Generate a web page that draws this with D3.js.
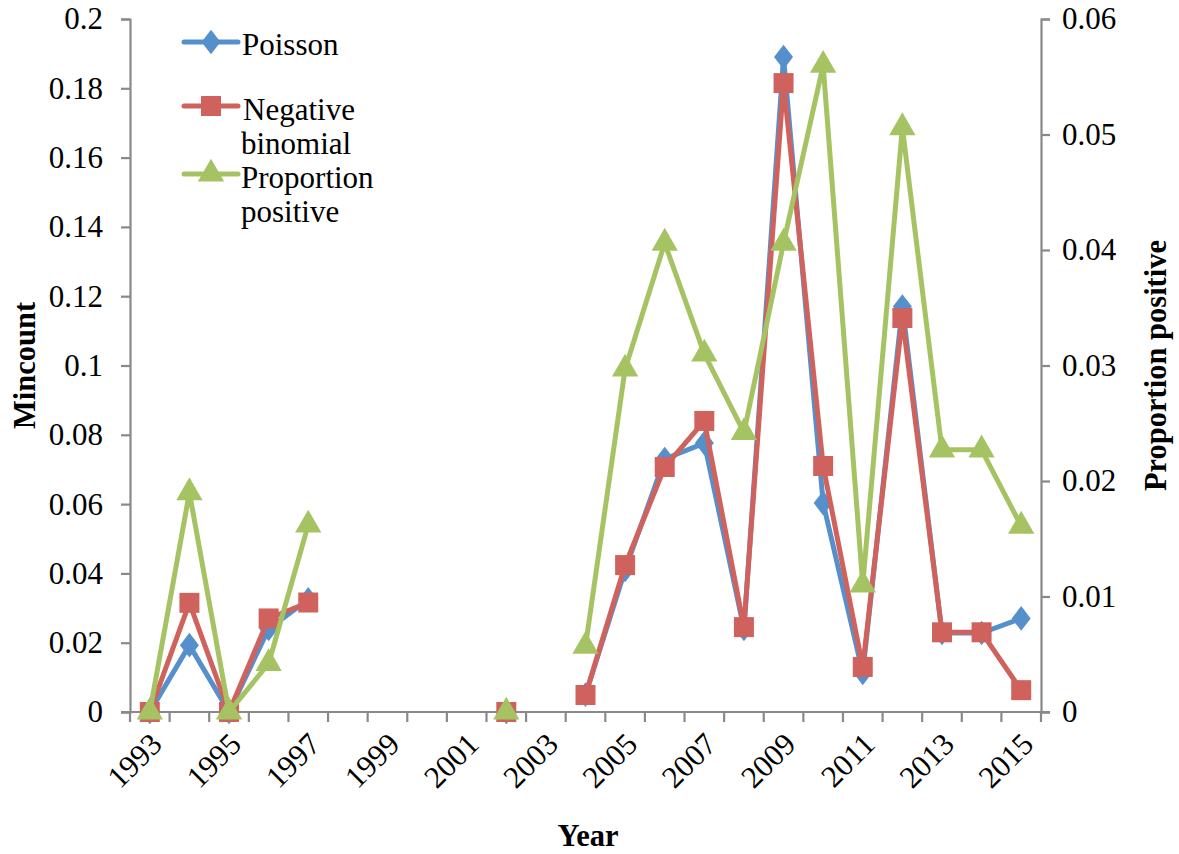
<!DOCTYPE html>
<html>
<head>
<meta charset="utf-8">
<script src="https://cdn.jsdelivr.net/npm/d3@7"></script>
<style>
  body { margin: 0; background: #fff; }
</style>
</head>
<body>
<script>
const years = d3.range(1993, 2016);
const yearLabels = ['1993', '1995', '1997', '1999', '2001', '2003', '2005', '2007', '2009', '2011', '2013', '2015'];

// null = no value that year
const poisson = [0, 0.0193, 0, 0.024, 0.0325, null, null, null, null, 0, null, 0.005, 0.041,
    0.073, 0.0776, 0.024, 0.189, 0.0603, 0.0113, 0.117, 0.0228, 0.0228, 0.027];
const negbin = [0, 0.0315, 0, 0.027, 0.0316, null, null, null, null, 0, null, 0.0049, 0.0424,
    0.0707, 0.084, 0.0245, 0.1815, 0.071, 0.013, 0.1137, 0.023, 0.023, 0.0063];
const propPos = [0, 0.019, 0, 0.0042, 0.0162, null, null, null, null, 0, null, 0.0057, 0.0297,
    0.0406, 0.031, 0.0242, 0.0406, 0.056, 0.011, 0.0506, 0.0227, 0.0227, 0.0161];

const leftTicks = [0, 0.02, 0.04, 0.06, 0.08, 0.1, 0.12, 0.14, 0.16, 0.18, 0.2];
const rightTicks = [0, 0.01, 0.02, 0.03, 0.04, 0.05, 0.06];

const W = 1179, H = 854;
const pLeft = 130, pRight = 1041, pTop = 19, pBottom = 712;
const axisColor = '#898989';
const blue = '#5690cc', red = '#d0625d', green = '#a6c363';
const serif = '"Liberation Serif", "DejaVu Serif", serif';

const svg = d3.select('body').append('svg')
    .attr('width', W)
    .attr('height', H)
    .attr('font-family', serif);

const x = d3.scaleBand().domain(years).range([pLeft, pRight]);
const yL = d3.scaleLinear().domain([0, 0.2]).range([pBottom, pTop]);
const yR = d3.scaleLinear().domain([0, 0.06]).range([pBottom, pTop]);
const cx = yr => x(yr) + x.bandwidth() / 2;

// left axis
const gl = svg.append('g')
    .attr('transform', `translate(${pLeft},0)`)
    .call(d3.axisLeft(yL).tickValues(leftTicks).tickSize(9).tickPadding(18)
        .tickFormat(v => String(+v.toFixed(2))));
// right axis
const gr = svg.append('g')
    .attr('transform', `translate(${pRight},0)`)
    .call(d3.axisRight(yR).tickValues(rightTicks).tickSize(9).tickPadding(12)
        .tickFormat(v => String(+v.toFixed(2))));
[gl, gr].forEach(g => {
    g.attr('font-family', serif).attr('font-size', 31);
    g.select('.domain').attr('stroke', axisColor).attr('stroke-width', 2.2);
    g.selectAll('.tick line').attr('stroke', axisColor).attr('stroke-width', 2.2);
    g.selectAll('.tick text').attr('fill', '#000');
});

// bottom axis: ticks between categories
svg.append('line')
    .attr('x1', pLeft - 9).attr('x2', pRight + 9)
    .attr('y1', pBottom).attr('y2', pBottom)
    .attr('stroke', axisColor).attr('stroke-width', 2.2);
svg.selectAll('.xtick')
    .data(years.concat([years[years.length - 1] + 1]))
    .enter().append('line')
    .attr('class', 'xtick')
    .attr('x1', d => d > 2015 ? pRight : x(d))
    .attr('x2', d => d > 2015 ? pRight : x(d))
    .attr('y1', pBottom).attr('y2', pBottom + 10)
    .attr('stroke', axisColor).attr('stroke-width', 2.2);
svg.selectAll('.xlab')
    .data(yearLabels)
    .enter().append('text')
    .attr('class', 'xlab')
    .attr('text-anchor', 'end')
    .attr('transform', d => `translate(${cx(+d) + 14},${pBottom + 34}) rotate(-45)`)
    .attr('font-size', 31)
    .text(d => d);

// axis titles
svg.append('text')
    .attr('text-anchor', 'middle')
    .attr('transform', `translate(35,${(pTop + pBottom) / 2}) rotate(-90)`)
    .attr('font-size', 30.5).attr('font-weight', 'bold')
    .text('Mincount');
svg.append('text')
    .attr('text-anchor', 'middle')
    .attr('transform', `translate(1166,${(pTop + pBottom) / 2}) rotate(-90)`)
    .attr('font-size', 30.5).attr('font-weight', 'bold')
    .text('Proportion positive');
svg.append('text')
    .attr('text-anchor', 'middle')
    .attr('x', 588).attr('y', 846)
    .attr('font-size', 30.5).attr('font-weight', 'bold')
    .text('Year');

const symDiamond = d3.symbol().type(d3.symbolDiamond2).size(230);
const symSquare = d3.symbol().type(d3.symbolSquare).size(400);
const symTri = d3.symbol().type(d3.symbolTriangle).size(300);

const series = [
    { name: 'Poisson', vals: poisson, y: yL, color: blue, sym: symDiamond, sy: 1.3 },
    { name: 'Negative binomial', vals: negbin, y: yL, color: red, sym: symSquare, sy: 1 },
    { name: 'Proportion positive', vals: propPos, y: yR, color: green, sym: symTri, sy: 1 },
];

series.forEach(s => {
    const pts = years.map((yr, i) => ({ yr, v: s.vals[i] }));
    const line = d3.line()
        .defined(d => d.v != null)
        .x(d => cx(d.yr))
        .y(d => s.y(d.v));
    svg.append('path')
        .datum(pts)
        .attr('d', line)
        .attr('fill', 'none')
        .attr('stroke', s.color)
        .attr('stroke-width', 5)
        .attr('stroke-linejoin', 'round');
    svg.selectAll(null)
        .data(pts.filter(d => d.v != null))
        .enter().append('path')
        .attr('d', s.sym())
        .attr('transform', d => `translate(${cx(d.yr)},${s.y(d.v)}) scale(1,${s.sy})`)
        .attr('fill', s.color);
});

// legend
const legend = [
    { s: series[0], y: 42, words: ['Poisson'], pos: [[242, 55]] },
    { s: series[1], y: 106, words: ['Negative', 'binomial'], pos: [[243, 120], [241, 154]] },
    { s: series[2], y: 174, words: ['Proportion', 'positive'], pos: [[241, 188], [241, 222]] },
];
legend.forEach(l => {
    svg.append('line')
        .attr('x1', 184).attr('x2', 238)
        .attr('y1', l.y).attr('y2', l.y)
        .attr('stroke', l.s.color).attr('stroke-width', 5)
        .attr('stroke-linecap', 'round');
    svg.append('path')
        .attr('d', l.s.sym())
        .attr('transform', `translate(211,${l.y}) scale(1,${l.s.sy})`)
        .attr('fill', l.s.color);
    l.words.forEach((w, i) => {
        svg.append('text')
            .attr('x', l.pos[i][0]).attr('y', l.pos[i][1])
            .attr('font-size', 31)
            .text(w);
    });
});
</script>
</body>
</html>
